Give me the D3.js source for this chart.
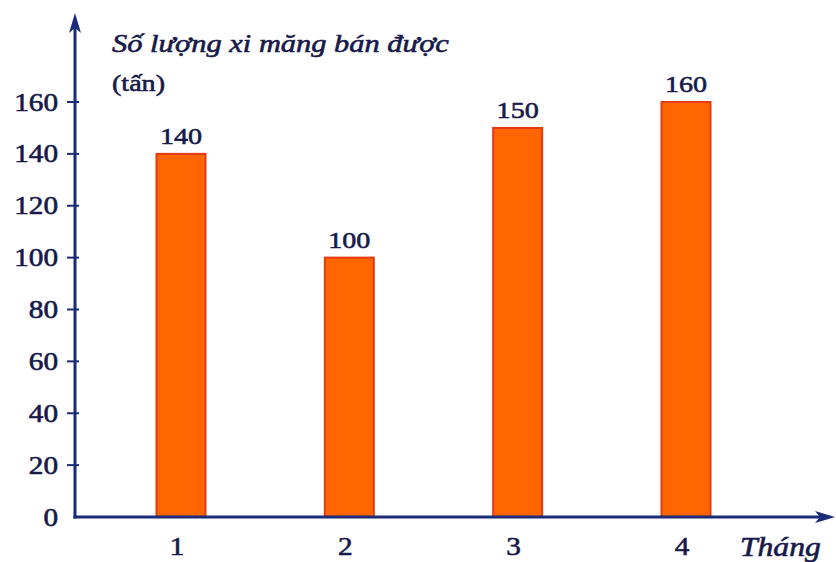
<!DOCTYPE html>
<html><head><meta charset="utf-8">
<script src="https://cdn.jsdelivr.net/npm/d3@7"></script>
<style>
html,body{margin:0;padding:0;background:#fff;}
svg{display:block;}
text{font-family:"Liberation Serif","Times New Roman",Times,serif;}
</style>
</head><body>
<svg id="chart" width="836" height="562"></svg>
<script>
const months = ["1", "2", "3", "4"];
const sales = [140, 100, 150, 160];
const yTicks = [0, 20, 40, 60, 80, 100, 120, 140, 160];
const yTitle = "Số lượng xi măng bán được";
const yUnit = "(tấn)";
const xTitle = "Tháng";

const svg = d3.select("#chart");
const axisColor = "#1b2b78";
const textColor = "#17194a";
const STRETCH = 1.17;

const x = d3.scalePoint().domain(months).range([181, 686]);
const y = d3.scaleLinear().domain([0, 160]).range([517, 102]);
const barW = 49;

function stretch(sel) {
  sel.each(function () {
    const w = this.getComputedTextLength();
    d3.select(this).attr("textLength", w * STRETCH).attr("lengthAdjust", "spacingAndGlyphs")
      .attr("stroke", textColor).attr("stroke-width", 0.6);
  });
}

// bars
svg.append("g").selectAll("rect").data(months).join("rect")
  .attr("x", d => x(d) - barW / 2)
  .attr("y", (d, i) => y(sales[i]))
  .attr("width", barW)
  .attr("height", (d, i) => y(0) - y(sales[i]))
  .attr("fill", "#ff6500")
  .attr("stroke", "#e63a10")
  .attr("stroke-width", 2);

// value labels
svg.append("g").selectAll("text").data(months).join("text")
  .attr("x", d => x(d))
  .attr("y", (d, i) => y(sales[i]) - 10)
  .attr("text-anchor", "middle")
  .attr("font-size", 24)
  .attr("fill", textColor)
  .text((d, i) => sales[i])
  .call(stretch);

// axes
const x0 = 75, yBase = y(0);
svg.append("line").attr("x1", x0).attr("y1", yBase + 1.5).attr("x2", x0).attr("y2", 24)
  .attr("stroke", axisColor).attr("stroke-width", 3);
svg.append("line").attr("x1", x0 - 1.5).attr("y1", yBase).attr("x2", 824).attr("y2", yBase)
  .attr("stroke", axisColor).attr("stroke-width", 3);
// arrowheads
svg.append("path").attr("d", `M${x0},13 L${x0 + 6},33 L${x0},28 L${x0 - 6},33 Z`).attr("fill", axisColor);
svg.append("path").attr("d", `M835,${yBase} L815,${yBase - 6} L820,${yBase} L815,${yBase + 6} Z`).attr("fill", axisColor);

// y ticks
const yt = svg.append("g");
yt.selectAll("line").data(yTicks.filter(d => d > 0)).join("line")
  .attr("x1", x0 - 8).attr("x2", x0 + 4)
  .attr("y1", d => y(d)).attr("y2", d => y(d))
  .attr("stroke", axisColor).attr("stroke-width", 2);
yt.selectAll("text").data(yTicks).join("text")
  .attr("x", 58)
  .attr("y", d => y(d) + 8.5)
  .attr("text-anchor", "end")
  .attr("font-size", 25)
  .attr("fill", textColor)
  .text(d => d)
  .call(stretch);

// x tick labels
svg.append("g").selectAll("text").data(months).join("text")
  .attr("x", d => x(d) - 4)
  .attr("y", 555)
  .attr("text-anchor", "middle")
  .attr("font-size", 25)
  .attr("fill", textColor)
  .text(d => d)
  .call(stretch);

// titles
svg.append("text").attr("x", 112).attr("y", 52)
  .attr("font-style", "italic")
  .attr("font-size", 26).attr("fill", textColor)
  .text(yTitle).call(stretch);
svg.append("text").attr("x", 112).attr("y", 91)
  .attr("font-size", 24).attr("fill", textColor)
  .text(yUnit).call(stretch);
svg.append("text").attr("x", 740).attr("y", 556)
  .attr("font-style", "italic")
  .attr("font-size", 27).attr("fill", textColor)
  .text(xTitle).call(stretch);
</script>
</body></html>
